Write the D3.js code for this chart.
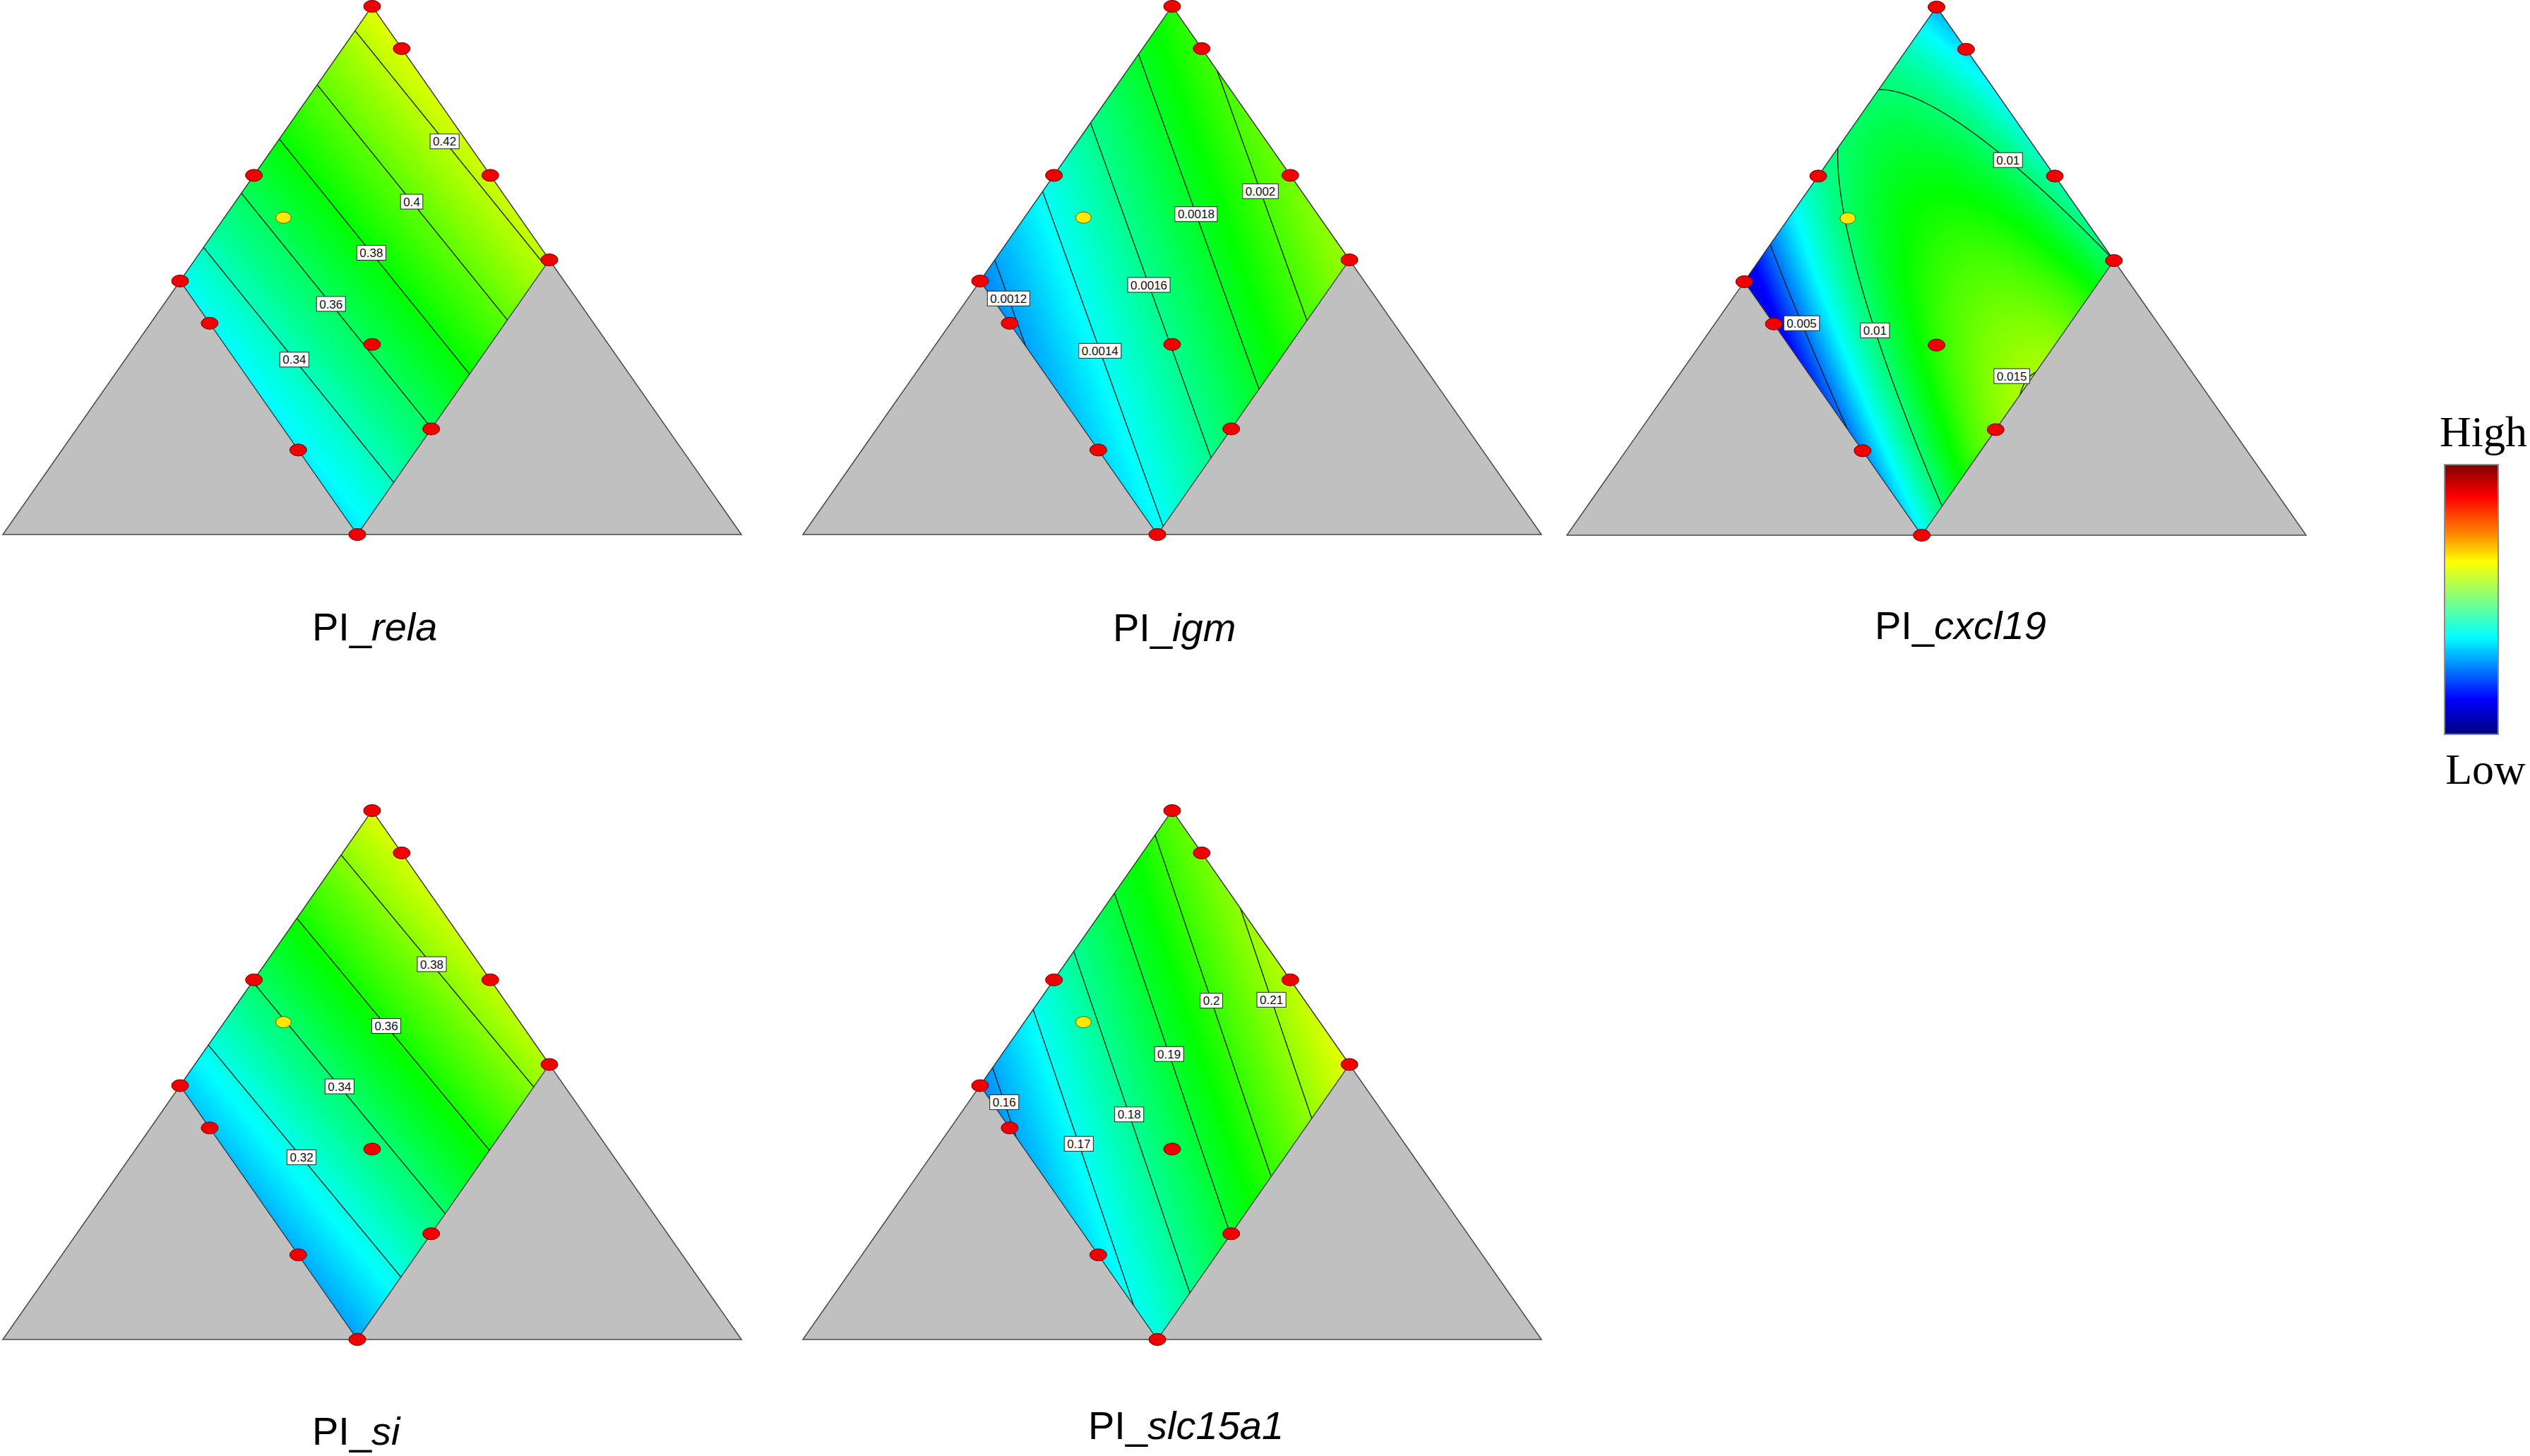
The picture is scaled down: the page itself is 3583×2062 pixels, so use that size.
<!DOCTYPE html>
<head>
  <title>PI responses - mixture contour plots</title>
  <meta charset="utf-8">
  <style>
    body { margin: 0; background: #fff; }
    .title { font-family: "Liberation Sans", Arial, sans-serif; font-size: 56px; fill: #000; }
    .clabel text { font-family: "Liberation Sans", Arial, sans-serif; font-size: 17px; fill: #111; }
    .legend text { font-family: "Liberation Serif", "Times New Roman", serif; font-size: 62px; fill: #000; }
  </style>
</head>

<body>
  <svg width="3583" height="2062"></svg>

  <script src="https://d3js.org/d3.v7.min.js"></script>
  <script>

    //Design points as ternary fractions [A (top), B (left), C (right)]
    var designPoints = [[1, 0, 0], [0.92, 0, 0.08], [0.68, 0.32, 0], [0.68, 0, 0.32], [0.52, 0, 0.48],
                        [0.48, 0.52, 0], [0.40, 0.52, 0.08], [0.16, 0.52, 0.32], [0, 0.52, 0.48],
                        [0.20, 0.32, 0.48], [0.36, 0.32, 0.32]];
    var checkPoints = [[0.60, 0.32, 0.08]];

    //Upper limits of B and C (the feasible region is the rhombus B <= bMax, C <= cMax)
    var bMax = 0.52, cMax = 0.48;

    //Fitted surfaces: f = c0 + c1*u + c2*v + c3*u^2 + c4*v^2 + c5*u*v
    //where u = B / bMax and v = C / cMax
    var relaModel   = [0.429, -0.1014, -0.00682, 0, 0, 0];
    var igmModel    = [0.00194, -0.000801, 0.000237, 0, 0, 0];
    var cxcl19Model = [0.00611, 0.02052, 0.0045, -0.02521, -0.0006, 0.00201];
    var siModel     = [0.394, -0.0868, -0.00691, 0, 0, 0];
    var slcModel    = [0.2042, -0.04727, 0.01507, 0, 0, 0];

    //Response values at the blue and red ends of each colour scale
    var relaRange   = [0.271, 0.489];
    var igmRange    = [0.00089, 0.00285];
    var cxcl19Range = [0.003, 0.021];
    var siRange     = [0.274, 0.441];
    var slcRange    = [0.143, 0.247];

    //Contour levels drawn on each plot
    var relaLevels   = [0.34, 0.36, 0.38, 0.4, 0.42];
    var igmLevels    = [0.0012, 0.0014, 0.0016, 0.0018, 0.002];
    var cxcl19Levels = [0.005, 0.01, 0.015];
    var siLevels     = [0.32, 0.34, 0.36, 0.38];
    var slcLevels    = [0.16, 0.17, 0.18, 0.19, 0.2, 0.21];

    var legendLabels = ["High", "Low"];

    //Layout: triangle box, title spot, label spots [level index, u, v]
    var panels = [
      {gene: "rela", model: relaModel, range: relaRange, levels: relaLevels,
       left: 4, right: 1050, top: 9, base: 757, titleX: 442, titleY: 907,
       spots: [[4, 0.04, 0.475], [3, 0.236, 0.5], [2, 0.434, 0.49], [1, 0.63, 0.476], [0, 0.829, 0.48]]},
      {gene: "igm", model: igmModel, range: igmRange, levels: igmLevels,
       left: 1137, right: 2183, top: 9, base: 757, titleX: 1576, titleY: 908,
       spots: [[4, 0.098, 0.62], [3, 0.304, 0.487], [2, 0.555, 0.489], [1, 0.80, 0.485], [0, 0.942, 0.125]]},
      {gene: "cxcl19", model: cxcl19Model, range: cxcl19Range, levels: cxcl19Levels,
       left: 2219, right: 3266, top: 10, base: 758, titleX: 2655, titleY: 905,
       spots: [[1, 0.086, 0.503], [0, 0.92, 0.25], [1, 0.748, 0.463], [2, 0.476, 0.94]]},
      {gene: "si", model: siModel, range: siRange, levels: siLevels,
       left: 4, right: 1050, top: 1148, base: 1897, titleX: 442, titleY: 2046,
       spots: [[3, 0.104, 0.477], [2, 0.335, 0.467], [1, 0.566, 0.456], [0, 0.792, 0.49]]},
      {gene: "slc15a1", model: slcModel, range: slcRange, levels: slcLevels,
       left: 1137, right: 2183, top: 1148, base: 1897, titleX: 1541, titleY: 2038,
       spots: [[5, 0.087, 0.655], [4, 0.24, 0.488], [3, 0.449, 0.47], [2, 0.662, 0.476], [1, 0.845, 0.398], [0, 0.967, 0.102]]}
    ];

    var svg = d3.select("svg");
    svg.append("rect").attr("width", 3583).attr("height", 2062).attr("fill", "#fff");
    var defs = svg.append("defs");

    var N = 160, M = 3; //grid cells, margin cells outside the region (clipped away)

    function surface(c, u, v) {
      return c[0] + c[1] * u + c[2] * v + c[3] * u * u + c[4] * v * v + c[5] * u * v;
    }

    panels.forEach(function(p, pi) {

      var x = d3.scaleLinear().domain([-1, 1]).range([p.left, p.right]);
      var y = d3.scaleLinear().domain([0, 1]).range([p.base, p.top]);

      function tern(a, b, c) { return [x(c - b), y(a)]; }
      function uv(u, v) { var b = bMax * u, c = cMax * v; return tern(1 - b - c, b, c); }
      function gridU(gx) { return (gx - M) / (N - 2 * M); }
      function grid(gx, gy) { return uv(gridU(gx), gridU(gy)); }

      //colour scale: blue - cyan - green - yellow - red, darker blue below the range
      var q = (p.range[1] - p.range[0]) / 4;
      var color = d3.scaleLinear()
          .domain([p.range[0] - q, p.range[0], p.range[0] + q, p.range[0] + 2 * q, p.range[0] + 3 * q, p.range[1]])
          .range(["#000090", "#0000ff", "#00ffff", "#00ff00", "#ffff00", "#ff0000"])
          .clamp(true);

      var g = svg.append("g");

      //Whole simplex in grey
      g.append("path")
          .attr("d", d3.line()([tern(1, 0, 0), tern(0, 1, 0), tern(0, 0, 1)]) + "Z")
          .attr("fill", "#c0c0c0")
          .attr("stroke", "#4a4a4a")
          .attr("stroke-width", 1.5);

      var corners = [uv(0, 0), uv(1, 0), uv(1, 1), uv(0, 1)];
      defs.append("clipPath").attr("id", "clip" + pi)
        .append("path").attr("d", d3.line()(corners) + "Z");

      //Sample the surface on a grid covering the rhombus
      var values = new Array(N * N);
      for (var j = 0; j < N; ++j) {
        for (var i = 0; i < N; ++i) {
          values[j * N + i] = surface(p.model, gridU(i + 0.5), gridU(j + 0.5));
        }
      }

      var ext = d3.extent(values);
      var step = (p.range[1] - p.range[0]) / 260;
      var k0 = Math.floor((ext[0] - p.range[0]) / step), k1 = Math.ceil((ext[1] - p.range[0]) / step);
      var bands = d3.range(k0, k1 + 1).map(function(k) { return p.range[0] + k * step; });

      var proj = d3.geoTransform({point: function(gx, gy) {
        var pt = grid(gx, gy);
        this.stream.point(pt[0], pt[1]);
      }});
      var path = d3.geoPath(proj);

      var field = g.append("g").attr("clip-path", "url(#clip" + pi + ")");

      field.selectAll("path.band")
        .data(d3.contours().size([N, N]).thresholds(bands)(values))
        .join("path")
          .attr("class", "band")
          .attr("d", path)
          .attr("fill", function(d) { return color(d.value + step / 2); });

      var lines = d3.contours().size([N, N]).thresholds(p.levels)(values);

      field.selectAll("path.iso")
        .data(lines)
        .join("path")
          .attr("class", "iso")
          .attr("d", path)
          .attr("fill", "none")
          .attr("stroke", "#151515")
          .attr("stroke-width", 1.3);

      //Rhombus outline
      g.append("path")
          .attr("d", d3.line()(corners) + "Z")
          .attr("fill", "none")
          .attr("stroke", "#3a3a3a")
          .attr("stroke-width", 1.3);

      //Contour labels, snapped onto their line
      p.spots.forEach(function(s) {
        var anchor = uv(s[1], s[2]), best = anchor, bd = Infinity;
        lines[s[0]].coordinates.forEach(function(poly) {
          poly.forEach(function(ring) {
            ring.forEach(function(pt) {
              var u = gridU(pt[0]), v = gridU(pt[1]);
              if (u < 0.02 || u > 0.98 || v < 0.02 || v > 0.98) return;
              var c = grid(pt[0], pt[1]);
              var d = (c[0] - anchor[0]) * (c[0] - anchor[0]) + (c[1] - anchor[1]) * (c[1] - anchor[1]);
              if (d < bd) { bd = d; best = c; }
            });
          });
        });

        var lab = g.append("g").attr("class", "clabel")
            .attr("transform", "translate(" + best[0] + "," + best[1] + ")");
        var box = lab.append("rect");
        var txt = lab.append("text")
            .attr("text-anchor", "middle")
            .attr("dy", "0.36em")
            .text(String(p.levels[s[0]]));
        var w = txt.node().getComputedTextLength() + 8;
        box.attr("x", -w / 2).attr("y", -10.5).attr("width", w).attr("height", 21)
            .attr("fill", "#fff").attr("stroke", "#222").attr("stroke-width", 1);
      });

      //Design points
      g.selectAll("ellipse.design")
        .data(designPoints)
        .join("ellipse")
          .attr("class", "design")
          .attr("cx", function(d) { return tern(d[0], d[1], d[2])[0]; })
          .attr("cy", function(d) { return tern(d[0], d[1], d[2])[1]; })
          .attr("rx", 12)
          .attr("ry", 8.5)
          .attr("fill", "#f00000")
          .attr("stroke", "#6a0000")
          .attr("stroke-width", 1);

      g.selectAll("ellipse.check")
        .data(checkPoints)
        .join("ellipse")
          .attr("class", "check")
          .attr("cx", function(d) { return tern(d[0], d[1], d[2])[0]; })
          .attr("cy", function(d) { return tern(d[0], d[1], d[2])[1]; })
          .attr("rx", 11)
          .attr("ry", 8)
          .attr("fill", "#ffe800")
          .attr("stroke", "#6a5a00")
          .attr("stroke-width", 1);

      //Title
      var t = svg.append("text").attr("class", "title").attr("x", p.titleX).attr("y", p.titleY);
      t.append("tspan").text("PI_");
      t.append("tspan").attr("font-style", "italic").text(p.gene);
    });

    //Colour legend
    var jet = [[0, "#800000"], [0.12, "#ff0000"], [0.25, "#ff8000"], [0.36, "#ffff00"], [0.5, "#80ff80"],
               [0.64, "#00ffff"], [0.87, "#0000ff"], [1, "#000080"]];
    var grad = defs.append("linearGradient").attr("id", "jet")
        .attr("x1", 0).attr("y1", 0).attr("x2", 0).attr("y2", 1);
    grad.selectAll("stop")
      .data(jet)
      .join("stop")
        .attr("offset", function(d) { return d[0]; })
        .attr("stop-color", function(d) { return d[1]; });

    var legend = svg.append("g").attr("class", "legend");
    legend.append("rect")
        .attr("x", 3462).attr("y", 658).attr("width", 76).attr("height", 382)
        .attr("fill", "url(#jet)")
        .attr("stroke", "#8c8c8c")
        .attr("stroke-width", 2);
    legend.append("text").attr("x", 3517).attr("y", 632).attr("text-anchor", "middle").text(legendLabels[0]);
    legend.append("text").attr("x", 3520).attr("y", 1110).attr("text-anchor", "middle").text(legendLabels[1]);

  </script>
</body>
